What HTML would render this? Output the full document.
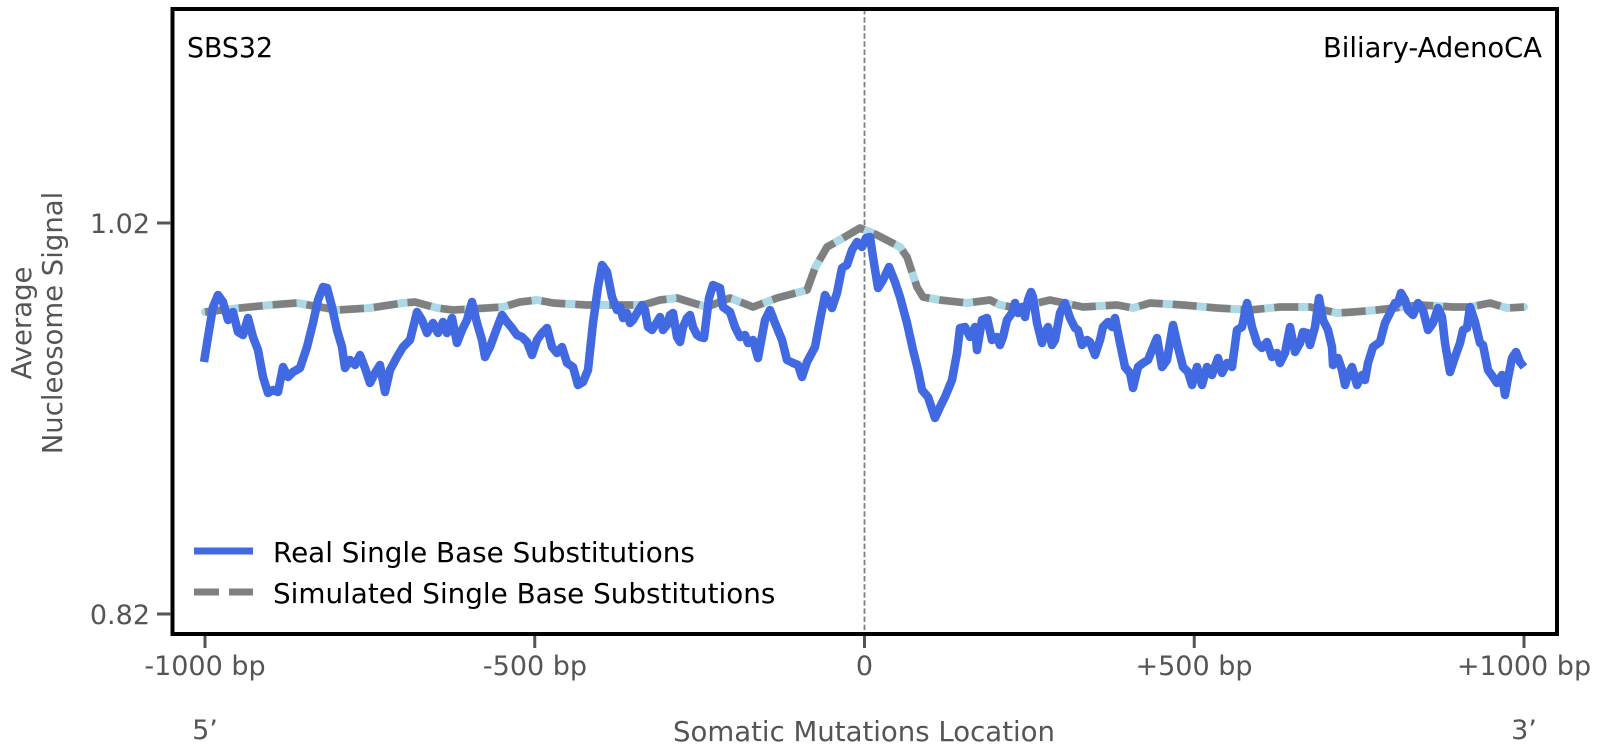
<!DOCTYPE html>
<html>
<head>
<meta charset="utf-8">
<style>
html,body{margin:0;padding:0;background:#fff;}
svg{display:block;}
text{font-family:"DejaVu Sans","Liberation Sans",sans-serif;}
</style>
</head>
<body>
<svg width="1603" height="756" viewBox="0 0 1603 756" xmlns="http://www.w3.org/2000/svg">
<rect x="0" y="0" width="1603" height="756" fill="#fff"/>

<!-- center dashed line -->
<line x1="864.5" y1="9" x2="864.5" y2="634" stroke="#808080" stroke-width="1.8" stroke-dasharray="5.5,2.6"/>

<!-- simulated: light blue under gray dashed -->
<polyline fill="none" stroke="#add8e6" stroke-width="8" stroke-linejoin="round" stroke-linecap="round"
points="205,312 240,308 270,305 297,303 337,310 370,308 403,303 415,302 437,308 453,310 487,308 503,307 520,302 537,300 553,303 587,305 617,305 643,305 660,300 677,298 693,303 707,307 730,298 753,307 777,298 807,290 815,268 827,247 843,238 860,228 877,235 900,247 907,257 917,287 923,297 940,300 967,303 990,300 1000,305 1017,308 1050,300 1083,307 1117,305 1133,308 1150,303 1183,305 1217,308 1250,310 1280,307 1310,307 1337,313 1353,312 1377,310 1403,307 1420,305 1453,307 1470,307 1490,303 1507,308 1524,307"/>
<polyline fill="none" stroke="#808080" stroke-width="7.5" stroke-linejoin="round" stroke-dasharray="24,10"
points="205,312 240,308 270,305 297,303 337,310 370,308 403,303 415,302 437,308 453,310 487,308 503,307 520,302 537,300 553,303 587,305 617,305 643,305 660,300 677,298 693,303 707,307 730,298 753,307 777,298 807,290 815,268 827,247 843,238 860,228 877,235 900,247 907,257 917,287 923,297 940,300 967,303 990,300 1000,305 1017,308 1050,300 1083,307 1117,305 1133,308 1150,303 1183,305 1217,308 1250,310 1280,307 1310,307 1337,313 1353,312 1377,310 1403,307 1420,305 1453,307 1470,307 1490,303 1507,308 1524,307"/>

<!-- real -->
<polyline fill="none" stroke="#4169e1" stroke-width="8.5" stroke-linejoin="round" stroke-linecap="butt"
points="204,362 208,337 213,307 218,295 223,302 228,320 233,312 238,332 243,335 248,318 253,337 258,350 263,377 268,393 273,390 278,392 283,367 288,377 293,372 300,368 307,347 313,323 318,300 323,287 327,288 332,307 337,330 342,347 345,368 350,360 355,365 360,355 365,368 370,383 375,373 380,365 385,392 390,370 397,357 403,347 410,340 417,312 422,320 427,333 433,323 438,333 443,322 447,333 452,318 457,343 462,330 467,320 472,302 477,323 482,340 485,357 490,347 497,328 502,315 507,322 512,328 517,335 522,337 527,342 532,355 537,340 542,333 547,328 552,347 557,353 562,347 567,363 573,367 578,385 583,382 588,370 593,323 598,287 602,265 607,272 612,297 617,310 620,307 623,318 627,313 630,323 633,320 637,313 642,305 645,310 648,327 652,330 657,322 660,317 663,330 667,325 670,315 673,313 677,337 680,342 683,327 687,318 690,315 693,327 697,335 700,337 704,338 709,298 713,285 720,288 723,307 730,312 735,327 740,337 745,335 748,343 753,340 758,358 765,320 770,310 775,323 782,340 787,360 793,363 798,365 802,377 807,362 815,347 820,320 825,295 832,308 837,293 842,268 847,265 852,250 857,242 862,247 866,238 870,237 873,257 878,288 883,280 889,267 895,282 900,297 907,323 913,350 918,370 922,390 928,397 935,418 940,407 945,397 952,380 957,353 960,328 965,327 970,337 975,327 977,350 982,320 987,318 992,340 997,337 1000,345 1003,337 1007,320 1012,313 1015,303 1018,313 1022,307 1025,317 1028,300 1031,292 1033,297 1037,323 1042,343 1045,333 1048,327 1052,345 1055,340 1060,313 1065,303 1070,318 1075,328 1078,330 1082,345 1087,340 1090,342 1095,355 1100,340 1103,327 1108,322 1112,327 1115,318 1120,343 1125,367 1130,373 1133,388 1138,367 1143,363 1148,360 1152,350 1157,338 1162,367 1167,360 1173,325 1178,347 1183,367 1188,372 1192,385 1197,367 1202,385 1207,367 1212,375 1218,358 1222,373 1227,363 1232,367 1237,330 1242,327 1247,303 1252,327 1257,343 1262,348 1267,342 1272,357 1277,353 1280,363 1285,353 1290,327 1295,352 1300,343 1303,332 1307,333 1310,345 1315,327 1319,298 1323,320 1328,330 1332,347 1333,365 1338,358 1342,370 1345,385 1348,375 1352,367 1357,385 1362,375 1365,380 1368,363 1373,347 1380,342 1385,323 1390,313 1395,303 1398,303 1401,293 1405,300 1408,310 1413,315 1418,303 1423,310 1428,330 1433,323 1438,308 1442,317 1445,343 1450,372 1455,357 1460,343 1463,330 1467,328 1470,307 1475,322 1480,343 1483,345 1488,370 1493,377 1497,383 1502,375 1505,395 1508,378 1512,358 1516,352 1520,362 1524,367"/>

<!-- frame -->
<rect x="172.5" y="9" width="1384.5" height="625" fill="none" stroke="#000" stroke-width="4"/>

<!-- y ticks -->
<line x1="157" y1="223" x2="171" y2="223" stroke="#555" stroke-width="3"/>
<line x1="157" y1="614" x2="171" y2="614" stroke="#555" stroke-width="3"/>
<text x="150" y="233" font-size="27" fill="#555" text-anchor="end">1.02</text>
<text x="150" y="624" font-size="27" fill="#555" text-anchor="end">0.82</text>

<!-- x ticks -->
<g stroke="#555" stroke-width="3">
<line x1="205" y1="636" x2="205" y2="648"/>
<line x1="534.75" y1="636" x2="534.75" y2="648"/>
<line x1="864.5" y1="636" x2="864.5" y2="648"/>
<line x1="1194.25" y1="636" x2="1194.25" y2="648"/>
<line x1="1524" y1="636" x2="1524" y2="648"/>
</g>
<g font-size="27" fill="#555" text-anchor="middle">
<text x="205" y="675">-1000 bp</text>
<text x="535" y="675">-500 bp</text>
<text x="864.5" y="675">0</text>
<text x="1194" y="675">+500 bp</text>
<text x="1524" y="675">+1000 bp</text>
<text x="205" y="739">5’</text>
<text x="1524" y="739">3’</text>
<text x="864" y="741" font-size="28" textLength="382" lengthAdjust="spacingAndGlyphs">Somatic Mutations Location</text>
</g>

<!-- y label -->
<g font-size="27.5" fill="#555" text-anchor="middle">
<text transform="translate(31,323) rotate(-90)">Average</text>
<text transform="translate(62,323) rotate(-90)">Nucleosome Signal</text>
</g>

<!-- titles -->
<text x="187" y="57" font-size="28" fill="#000" textLength="86" lengthAdjust="spacingAndGlyphs">SBS32</text>
<text x="1323" y="57" font-size="28" fill="#000" textLength="219" lengthAdjust="spacingAndGlyphs">Biliary-AdenoCA</text>

<!-- legend -->
<line x1="194" y1="551" x2="253" y2="551" stroke="#4169e1" stroke-width="7"/>
<line x1="194" y1="592" x2="219" y2="592" stroke="#808080" stroke-width="7"/>
<line x1="229" y1="592" x2="253" y2="592" stroke="#808080" stroke-width="7"/>
<text x="273" y="562" font-size="27.8" fill="#000">Real Single Base Substitutions</text>
<text x="273" y="603" font-size="27.8" fill="#000">Simulated Single Base Substitutions</text>
</svg>
</body>
</html>
